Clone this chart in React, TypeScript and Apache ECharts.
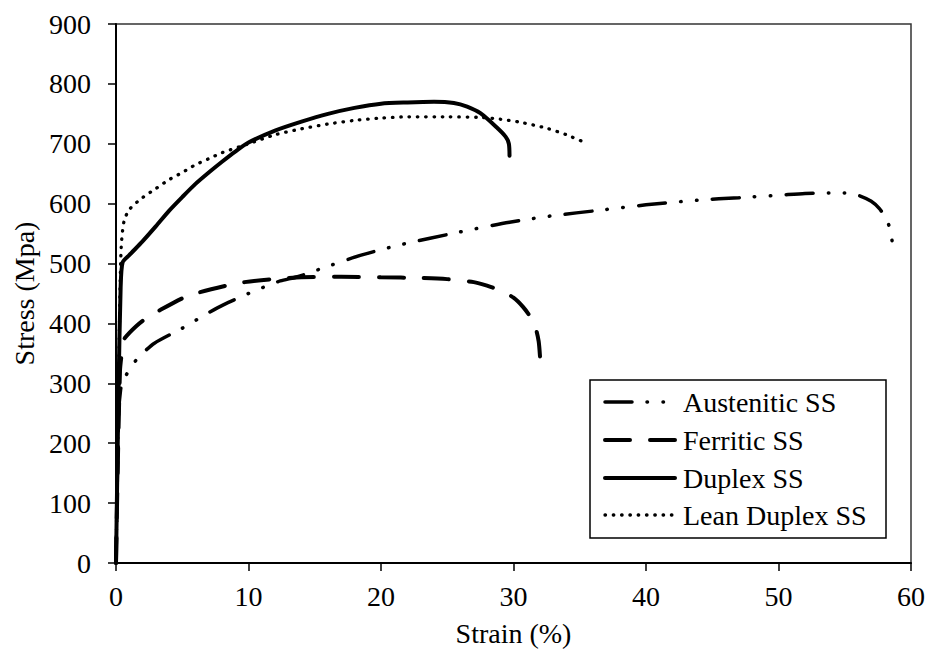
import React, { useEffect, useRef } from "react";
import * as echarts from "echarts";

const xTicks = [0, 10, 20, 30, 40, 50, 60];
const yTicks = [0, 100, 200, 300, 400, 500, 600, 700, 800, 900];

const seriesNames = ["Austenitic SS", "Ferritic SS", "Duplex SS", "Lean Duplex SS"];

const austeniticStrain = [0, 0.2, 0.35, 0.5, 1.2, 2.0, 2.9, 5.0, 6.0, 7.0, 8.1, 10.1, 11.2, 12.4, 13.7, 16.2, 18.5, 21.4, 26, 29.7, 33, 36.5, 40, 44, 47, 50, 52, 53.9, 55, 56, 57, 57.6, 58.1, 58.4, 58.6];
const austeniticStress = [0, 250, 290, 302, 330, 350, 367, 392, 405, 418, 431, 451, 461, 471, 478, 497, 514, 531, 553, 569, 580, 589, 598, 606, 610, 614, 617, 618, 618, 614, 604, 592, 576, 559, 534];

const ferriticStrain = [0, 0.3, 0.55, 0.68, 1.5, 2.3, 3.3, 5.2, 6.3, 8.5, 9.7, 11.8, 14, 17, 20, 23, 25, 27, 28, 29, 30, 30.7, 31.3, 31.7, 31.9, 32.0];
const ferriticStress = [0, 320, 368, 376, 395, 409, 422, 444, 452, 464, 469, 474, 477, 478, 477, 476, 474, 469, 463, 455, 443, 428, 410, 390, 370, 345];

const duplexStrain = [0, 0.2, 0.35, 0.5, 1, 2, 3, 4, 5, 6, 7, 8, 9, 10, 12, 14, 16, 18, 20, 22, 24, 25.5, 26.5, 27.5, 28.7, 29.4, 29.65, 29.7];
const duplexStress = [0, 300, 460, 502, 514, 537, 562, 588, 611, 633, 652, 670, 687, 702, 722, 737, 750, 760, 767, 769, 770, 768, 762, 751, 728, 712, 700, 680];

const leanStrain = [0, 0.2, 0.3, 0.4, 0.6, 1, 2, 3, 4, 5, 6, 7, 8, 10, 12, 14, 16, 18, 20, 22, 25, 27.5, 29, 30.5, 32.5, 34, 35.5];
const leanStress = [0, 300, 450, 530, 570, 590, 610, 625, 640, 652, 665, 675, 685, 700, 715, 725, 733, 739, 743, 745, 745, 744, 741, 736, 726, 715, 701];

const zip = (xs: number[], ys: number[]) => xs.map((x, i) => [x, ys[i]]);

const FONT = "Liberation Serif";

const dashes: any[] = [
  { width: 3.5, dash: [27, 15, 0.5, 15.5, 0.5, 15.5] },
  { width: 4, dash: [25, 20] },
  { width: 4, dash: null },
  { width: 3.3, dash: [0.5, 7.8] },
];

export default function App() {
  const ref = useRef<HTMLDivElement>(null);
  useEffect(() => {
    if (!ref.current) return;
    const chart = echarts.init(ref.current, undefined, { renderer: "svg" });
    const lineBase = { type: "line", showSymbol: false, symbol: "none", smooth: 0.25, color: "#000" };

    const legLeft = 590, legTop = 380, legW = 296, legH = 158;
    const itemY = [402, 440, 478, 515];
    const legendChildren: any[] = [
      {
        type: "rect",
        shape: { x: legLeft, y: legTop, width: legW, height: legH },
        style: { fill: "#fff", stroke: "#000", lineWidth: 1.5 },
      },
    ];
    seriesNames.forEach((name, i) => {
      legendChildren.push({
        type: "line",
        shape: { x1: 605, y1: itemY[i], x2: 675, y2: itemY[i] },
        style: {
          stroke: "#000",
          lineWidth: dashes[i].width,
          lineDash: dashes[i].dash,
          lineCap: "round",
        },
      });
      legendChildren.push({
        type: "text",
        x: 683,
        y: itemY[i],
        style: {
          text: name,
          fontFamily: FONT,
          fontSize: 28,
          fill: "#000",
          verticalAlign: "middle",
          align: "left",
        },
      });
    });

    const txt = { fontFamily: FONT, fontSize: 28, color: "#000" };

    chart.setOption({
      animation: false,
      backgroundColor: "#fff",
      textStyle: { fontFamily: FONT },
      grid: {
        left: 116,
        right: 18,
        top: 24,
        bottom: 92,
        show: true,
        borderColor: "#333",
        borderWidth: 1.5,
        backgroundColor: "transparent",
      },
      graphic: [{ type: "group", z: 100, children: legendChildren }],
      xAxis: {
        type: "value",
        min: 0,
        max: 60,
        interval: 10,
        name: "Strain (%)",
        nameLocation: "middle",
        nameGap: 56,
        nameTextStyle: txt,
        axisLine: { show: true, onZero: false, lineStyle: { color: "#000", width: 2 } },
        axisTick: { show: true, inside: false, length: 8, lineStyle: { color: "#000", width: 1.5 } },
        axisLabel: {
          ...txt,
          margin: 19,
          formatter: (v: number) => (xTicks.includes(v) ? String(v) : ""),
        },
        splitLine: { show: false },
      },
      yAxis: {
        type: "value",
        min: 0,
        max: 900,
        interval: 100,
        name: "Stress (Mpa)",
        nameLocation: "middle",
        nameGap: 77,
        nameTextStyle: txt,
        axisLine: { show: true, onZero: false, lineStyle: { color: "#000", width: 2 } },
        axisTick: { show: true, inside: false, length: 8, lineStyle: { color: "#000", width: 1.5 } },
        axisLabel: {
          ...txt,
          margin: 25,
          formatter: (v: number) => (yTicks.includes(v) ? String(v) : ""),
        },
        splitLine: { show: false },
      },
      series: [
        {
          ...lineBase,
          name: seriesNames[0],
          data: zip(austeniticStrain, austeniticStress),
          lineStyle: { color: "#000", width: dashes[0].width, type: dashes[0].dash, cap: "round" },
        },
        {
          ...lineBase,
          name: seriesNames[1],
          data: zip(ferriticStrain, ferriticStress),
          lineStyle: { color: "#000", width: dashes[1].width, type: dashes[1].dash, cap: "round" },
        },
        {
          ...lineBase,
          name: seriesNames[2],
          data: zip(duplexStrain, duplexStress),
          lineStyle: { color: "#000", width: dashes[2].width, type: "solid", cap: "round" },
        },
        {
          ...lineBase,
          name: seriesNames[3],
          data: zip(leanStrain, leanStress),
          lineStyle: { color: "#000", width: dashes[3].width, type: dashes[3].dash, cap: "round" },
        },
      ],
    });
    return () => chart.dispose();
  }, []);
  return (
    <div
      ref={ref}
      style={{ position: "fixed", left: 0, top: 0, width: 929, height: 655, background: "#fff" }}
    />
  );
}
